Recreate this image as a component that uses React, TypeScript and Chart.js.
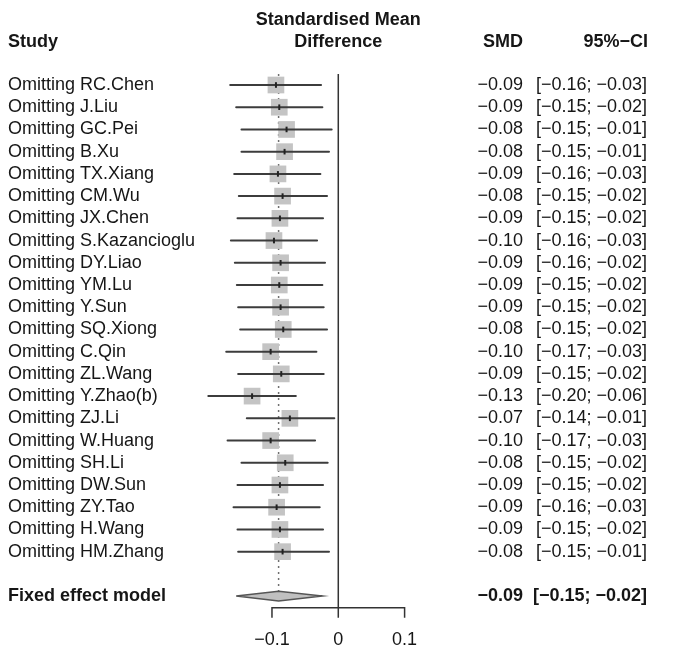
import React, { useEffect, useRef } from "react";
import { Chart, registerables } from "chart.js";

Chart.register(...registerables);

// ---------- data ----------
const studyLabels = [
  "Omitting RC.Chen",
  "Omitting J.Liu",
  "Omitting GC.Pei",
  "Omitting B.Xu",
  "Omitting TX.Xiang",
  "Omitting CM.Wu",
  "Omitting JX.Chen",
  "Omitting S.Kazancioglu",
  "Omitting DY.Liao",
  "Omitting YM.Lu",
  "Omitting Y.Sun",
  "Omitting SQ.Xiong",
  "Omitting C.Qin",
  "Omitting ZL.Wang",
  "Omitting Y.Zhao(b)",
  "Omitting ZJ.Li",
  "Omitting W.Huang",
  "Omitting SH.Li",
  "Omitting DW.Sun",
  "Omitting ZY.Tao",
  "Omitting H.Wang",
  "Omitting HM.Zhang",
];

const smd = [
  -0.094, -0.089, -0.078, -0.081, -0.091, -0.084, -0.088, -0.097, -0.087, -0.089, -0.087,
  -0.083, -0.102, -0.086, -0.13, -0.073, -0.102, -0.08, -0.088, -0.093, -0.088, -0.084,
];
const ciLower = [
  -0.163, -0.154, -0.146, -0.146, -0.157, -0.15, -0.152, -0.162, -0.156, -0.153, -0.151,
  -0.148, -0.169, -0.151, -0.196, -0.138, -0.167, -0.146, -0.152, -0.158, -0.152, -0.151,
];
const ciUpper = [
  -0.026, -0.024, -0.01, -0.014, -0.027, -0.017, -0.023, -0.032, -0.02, -0.024, -0.022,
  -0.017, -0.033, -0.022, -0.064, -0.006, -0.035, -0.016, -0.023, -0.028, -0.023, -0.014,
];

const smdText = [
  "−0.09", "−0.09", "−0.08", "−0.08", "−0.09", "−0.08", "−0.09", "−0.10", "−0.09", "−0.09", "−0.09",
  "−0.08", "−0.10", "−0.09", "−0.13", "−0.07", "−0.10", "−0.08", "−0.09", "−0.09", "−0.09", "−0.08",
];
const ciText = [
  "[−0.16; −0.03]", "[−0.15; −0.02]", "[−0.15; −0.01]", "[−0.15; −0.01]", "[−0.16; −0.03]",
  "[−0.15; −0.02]", "[−0.15; −0.02]", "[−0.16; −0.03]", "[−0.16; −0.02]", "[−0.15; −0.02]",
  "[−0.15; −0.02]", "[−0.15; −0.02]", "[−0.17; −0.03]", "[−0.15; −0.02]", "[−0.20; −0.06]",
  "[−0.14; −0.01]", "[−0.17; −0.03]", "[−0.15; −0.02]", "[−0.15; −0.02]", "[−0.16; −0.03]",
  "[−0.15; −0.02]", "[−0.15; −0.01]",
];

const pooledLabel = "Fixed effect model";
const pooledEstimate = [-0.09];
const pooledLower = [-0.154];
const pooledUpper = [-0.024];
const pooledSmdText = "−0.09";
const pooledCiText = "[−0.15; −0.02]";

const axisTicks = [-0.1, 0, 0.1];
const axisTickLabels = ["−0.1", "0", "0.1"];

const headerStudy = "Study";
const headerEffect = ["Standardised Mean", "Difference"];
const headerSmd = "SMD";
const headerCi = "95%−CI";

// ---------- layout (row units) ----------
const POOLED_ROW = studyLabels.length + 1;
const HEADER_ROW = -1.94;
const REF_TOP = -0.49;
const AXIS_ROW = POOLED_ROW + 0.52;
const TICK_ROW = POOLED_ROW + 0.97;
const TICKLABEL_ROW = POOLED_ROW + 1.98;
const DIAMOND_HALF = 0.22;

const FONT = "'Liberation Sans', Arial, Helvetica, sans-serif";
const LABEL_X = 8;
const SMD_RIGHT = 523;
const CI_RIGHT = 647;

export default function App() {
  const ref = useRef<HTMLCanvasElement | null>(null);

  useEffect(() => {
    if (!ref.current) return;

    const gap = { x: NaN, y: null as any };
    const ciData: any[] = [];
    smd.forEach((_, i) => {
      ciData.push({ x: ciLower[i], y: i }, { x: ciUpper[i], y: i }, gap);
    });

    const pe = pooledEstimate[0];
    const diamond = [
      { x: pooledLower[0], y: POOLED_ROW },
      { x: pe, y: POOLED_ROW - DIAMOND_HALF },
      { x: pooledUpper[0], y: POOLED_ROW },
      { x: pe, y: POOLED_ROW + DIAMOND_HALF },
      { x: pooledLower[0], y: POOLED_ROW },
    ];

    const textPlugin = {
      id: "forestText",
      afterDraw(chart: any) {
        const { ctx } = chart;
        const xs = chart.scales.x;
        const ys = chart.scales.y;
        ctx.save();
        ctx.fillStyle = "#161616";
        ctx.textBaseline = "middle";

        // headers
        ctx.font = `bold 18px ${FONT}`;
        ctx.textAlign = "left";
        ctx.fillText(headerStudy, LABEL_X, ys.getPixelForValue(HEADER_ROW));
        ctx.textAlign = "center";
        ctx.fillText(headerEffect[0], xs.getPixelForValue(0), ys.getPixelForValue(HEADER_ROW - 0.99));
        ctx.fillText(headerEffect[1], xs.getPixelForValue(0), ys.getPixelForValue(HEADER_ROW));
        ctx.textAlign = "right";
        ctx.fillText(headerSmd, SMD_RIGHT, ys.getPixelForValue(HEADER_ROW));
        ctx.fillText(headerCi, CI_RIGHT + 1, ys.getPixelForValue(HEADER_ROW));

        // study rows
        ctx.font = `18px ${FONT}`;
        studyLabels.forEach((lab, i) => {
          const py = ys.getPixelForValue(i);
          ctx.textAlign = "left";
          ctx.fillText(lab, LABEL_X, py);
          ctx.textAlign = "right";
          ctx.fillText(smdText[i], SMD_RIGHT, py);
          ctx.fillText(ciText[i], CI_RIGHT, py);
        });

        // pooled row
        ctx.font = `bold 18px ${FONT}`;
        const pp = ys.getPixelForValue(POOLED_ROW);
        ctx.textAlign = "left";
        ctx.fillText(pooledLabel, LABEL_X, pp);
        ctx.textAlign = "right";
        ctx.fillText(pooledSmdText, SMD_RIGHT, pp);
        ctx.fillText(pooledCiText, CI_RIGHT, pp);

        // axis tick labels
        ctx.font = `18px ${FONT}`;
        ctx.textAlign = "center";
        axisTicks.forEach((t, i) => {
          ctx.fillText(axisTickLabels[i], xs.getPixelForValue(t), ys.getPixelForValue(TICKLABEL_ROW));
        });
        ctx.restore();
      },
    };

    const chart = new Chart(ref.current, {
      type: "scatter",
      data: {
        datasets: [
          {
            type: "line",
            data: [
              { x: pe, y: REF_TOP },
              { x: pe, y: POOLED_ROW - DIAMOND_HALF },
            ],
            borderColor: "#707070",
            borderWidth: 1.5,
            borderDash: [2, 4],
            pointRadius: 0,
            order: 6,
          } as any,
          {
            type: "line",
            data: [
              { x: 0, y: REF_TOP },
              { x: 0, y: TICK_ROW },
            ],
            borderColor: "#333",
            borderWidth: 1.5,
            pointRadius: 0,
            order: 6,
          } as any,
          {
            type: "line",
            data: [
              { x: axisTicks[0], y: TICK_ROW },
              { x: axisTicks[0], y: AXIS_ROW },
              { x: axisTicks[axisTicks.length - 1], y: AXIS_ROW },
              { x: axisTicks[axisTicks.length - 1], y: TICK_ROW },
            ],
            borderColor: "#333",
            borderWidth: 1.5,
            pointRadius: 0,
            order: 6,
          } as any,
          {
            type: "scatter",
            data: smd.map((v, i) => ({ x: v, y: i })),
            pointStyle: "rect",
            pointRadius: 11.8,
            backgroundColor: "#c4c4c4",
            borderWidth: 0,
            order: 5,
          } as any,
          {
            type: "line",
            data: ciData,
            borderColor: "#3c3c3c",
            borderWidth: 2,
            borderCapStyle: "round",
            pointRadius: 0,
            spanGaps: false,
            order: 4,
          } as any,
          {
            type: "scatter",
            data: smd.map((v, i) => ({ x: v, y: i })),
            pointStyle: "line",
            rotation: 90,
            pointRadius: 2.8,
            borderColor: "#222",
            borderWidth: 2,
            order: 3,
          } as any,
          {
            type: "line",
            data: diamond,
            borderColor: "#555",
            borderWidth: 1.5,
            backgroundColor: "#c0c0c0",
            fill: "shape",
            pointRadius: 0,
            order: 2,
          } as any,
        ],
      },
      options: {
        responsive: false,
        animation: false,
        clip: false as any,
        layout: { autoPadding: false, padding: { left: 192.4, right: 272.4, top: 0, bottom: 0 } },
        plugins: { legend: { display: false }, tooltip: { enabled: false } },
        events: [],
        scales: {
          x: { type: "linear", min: -0.22, max: 0.1, display: false },
          y: { type: "linear", min: -3.825, max: 25.38, reverse: true, display: false },
        },
      },
      plugins: [textPlugin],
    });

    return () => chart.destroy();
  }, []);

  return (
    <canvas
      ref={ref}
      width={677}
      height={649}
      style={{ position: "absolute", left: 0, top: 0, display: "block", background: "#fff" }}
    />
  );
}
